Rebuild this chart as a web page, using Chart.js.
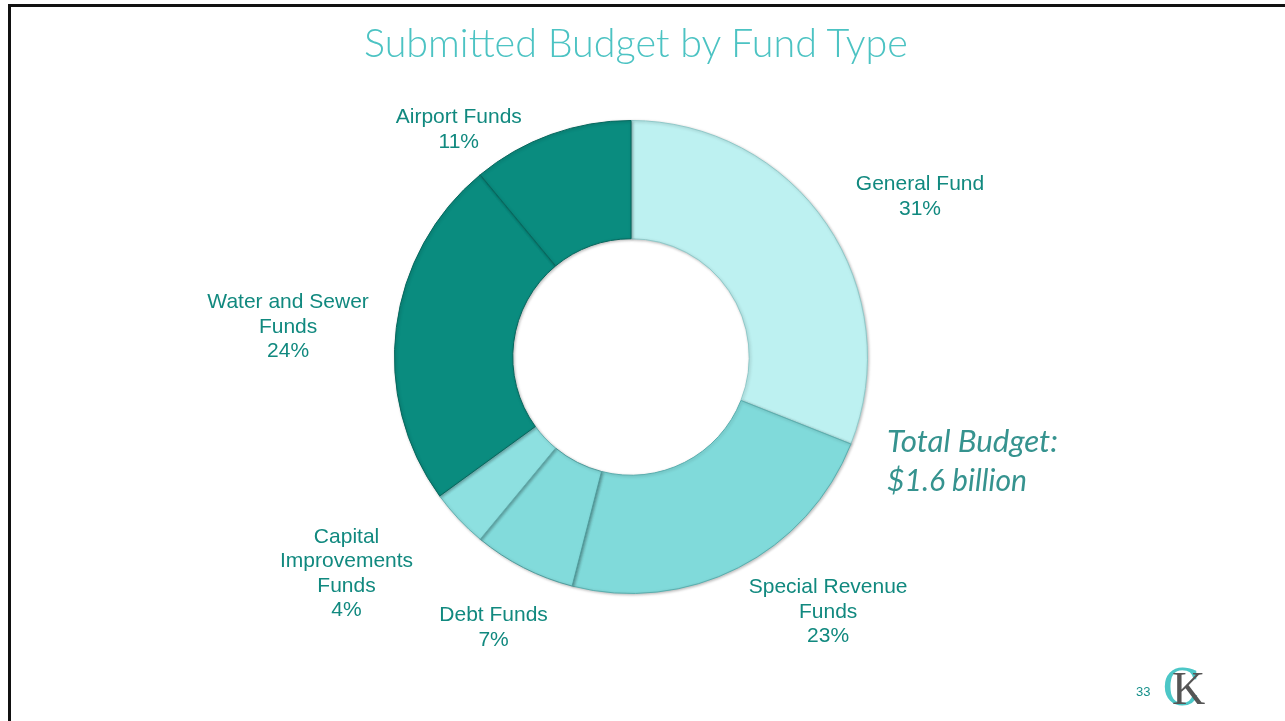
<!DOCTYPE html>
<html>
<head>
<meta charset="utf-8">
<script src="https://cdn.jsdelivr.net/npm/chart.js@4.4.1/dist/chart.umd.min.js"></script>
<style>
  html, body { margin: 0; padding: 0; background: #fff; }
  #slide { position: relative; width: 1285px; height: 721px; overflow: hidden; }
  #frame { position: absolute; left: 8px; top: 4px; width: 1300px; height: 740px;
           border-left: 3px solid #111; border-top: 3px solid #111; box-sizing: border-box; }
  #chartBox { position: absolute; left: 0; top: 0; width: 1285px; height: 721px; }
  .txt { position: absolute; white-space: nowrap; }
  #title { top: 17px; left: 364px; font-family: Lato, "Open Sans", sans-serif; font-weight: 300;
           color: #4cc3c3; font-size: 38px; line-height: 50px; }
  .total { font-family: Lato, "Open Sans", sans-serif; font-style: italic; color: #36938f;
           font-size: 28px; line-height: 36px; left: 887px; }
  #pageNo { left: 1136px; top: 684px; font-family: "Liberation Sans", Arial, sans-serif;
            font-size: 13px; color: #16908a; }
  #logoC { left: 1162px; top: 658px; font-family: "DejaVu Serif", serif; font-size: 50px;
           color: #4cc7c7; line-height: 60px; }
  #logoK { left: 1172px; top: 664px; font-family: "Liberation Serif", serif; font-size: 46px;
           color: #555; line-height: 50px; }
</style>
</head>
<body>
<div id="slide">
  <div id="frame"></div>
  <div id="chartBox"><canvas id="myChart"></canvas></div>
  <div class="txt" id="title">Submitted Budget by Fund Type</div>
  <div class="txt total" id="total1" style="top:422px">Total Budget:</div>
  <div class="txt total" id="total2" style="top:461px">$1.6 billion</div>
  <div class="txt" id="pageNo">33</div>
  <div class="txt" id="logoC">C</div>
  <div class="txt" id="logoK">K</div>
</div>
<script>
// fund types, clockwise from 12 o'clock
const fundNames = [
    ['General Fund'],
    ['Special Revenue', 'Funds'],
    ['Debt Funds'],
    ['Capital', 'Improvements', 'Funds'],
    ['Water and Sewer', 'Funds'],
    ['Airport Funds']
];
const fundShare = [31, 23, 7, 4, 24, 11];
const fundColors = ['#bdf1f1', '#80dada', '#82dbdb', '#8de0e0', '#0a8c7f', '#0a8c7f'];
const fundBorders = ['#8fc9c9', '#5aaeae', '#4f9c9c', '#62b0b0', '#06675d', '#06675d'];

// where each label sits: angle shift (deg) from slice middle, distance as radius multiple
const labelShift = [5, -10.8, 0, 6, -2, -17.2];
const labelDist = [1.40, 1.36, 1.28, 1.51, 1.456, 1.21];

const sliceLabels = {
    id: 'sliceLabels',
    afterDatasetsDraw(chart) {
        const ctx = chart.ctx;
        const meta = chart.getDatasetMeta(0);
        ctx.save();
        ctx.font = '21px "Liberation Sans", Arial, sans-serif';
        ctx.fillStyle = '#11897f';
        ctx.textAlign = 'center';
        ctx.textBaseline = 'middle';
        meta.data.forEach(function (arc, i) {
            const mid = (arc.startAngle + arc.endAngle) / 2 + labelShift[i] * Math.PI / 180;
            const r = arc.outerRadius * labelDist[i];
            const cx = arc.x + Math.cos(mid) * r;
            const cy = arc.y + Math.sin(mid) * r + 1;
            const lines = fundNames[i].concat([fundShare[i] + '%']);
            const lh = 24.5;
            const y0 = cy - (lines.length - 1) * lh / 2;
            lines.forEach(function (t, k) {
                ctx.fillText(t, cx, y0 + k * lh);
            });
        });
        ctx.restore();
    }
};

const softShadow = {
    id: 'softShadow',
    beforeDatasetDraw(chart) {
        const ctx = chart.ctx;
        ctx.save();
        ctx.shadowColor = 'rgba(0,0,0,0.25)';
        ctx.shadowBlur = 3;
        ctx.shadowOffsetX = 1;
        ctx.shadowOffsetY = 1;
    },
    afterDatasetDraw(chart) {
        chart.ctx.restore();
    }
};

const data = {
    labels: fundNames.map(function (n) { return n.join(' '); }),
    datasets: [{
        label: 'Submitted Budget',
        data: fundShare,
        backgroundColor: fundColors,
        borderColor: fundBorders,
        borderWidth: 1
    }]
};

const config = {
    type: 'doughnut',
    data: data,
    options: {
        responsive: true,
        maintainAspectRatio: false,
        animation: false,
        cutout: '50%',
        layout: { padding: { top: 120, bottom: 127, left: 300, right: 323 } },
        plugins: {
            legend: { display: false },
            tooltip: { enabled: false }
        }
    },
    plugins: [softShadow, sliceLabels]
};

var myChart = new Chart(document.getElementById('myChart'), config);

// fit slide texts to the widths measured on the original
function fitWidth(id, w) {
    const el = document.getElementById(id);
    const fs = parseFloat(getComputedStyle(el).fontSize);
    el.style.fontSize = (fs * w / el.getBoundingClientRect().width) + 'px';
}
fitWidth('title', 544);
fitWidth('total1', 171);
fitWidth('total2', 140);
</script>
</body>
</html>
